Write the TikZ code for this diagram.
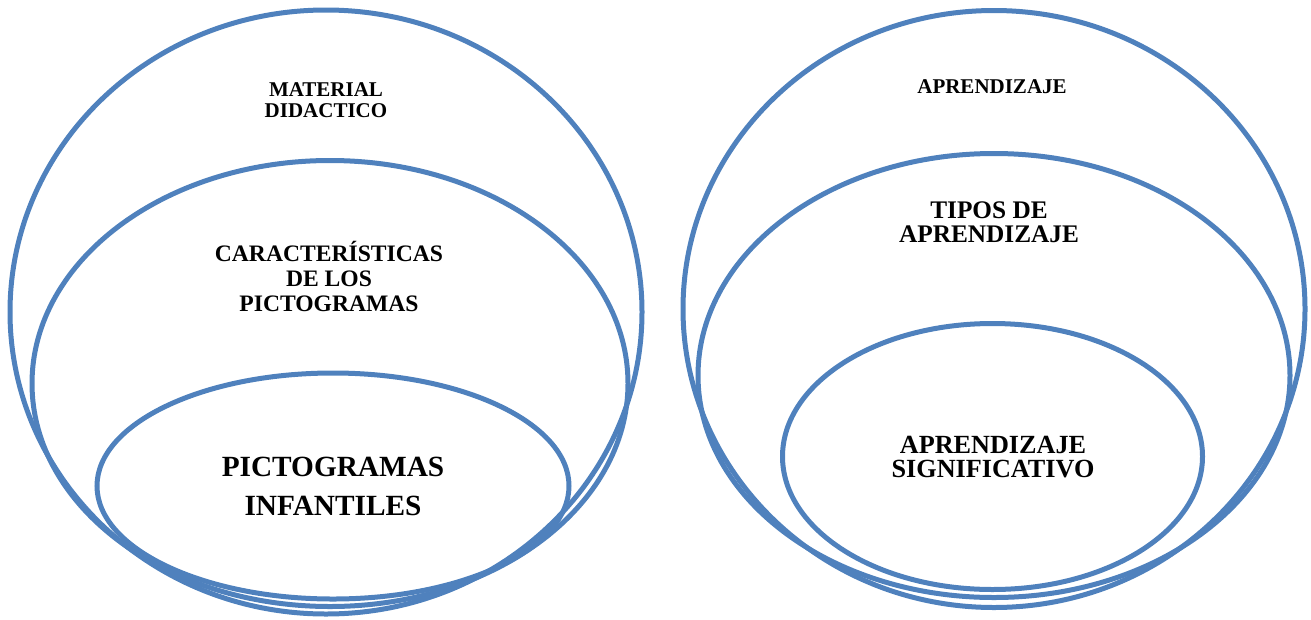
\documentclass[tikz,border=0pt]{standalone}
\usepackage{fontspec}
\setmainfont{Liberation Serif}
\usetikzlibrary{shapes.geometric}
\definecolor{ringblue}{HTML}{4F81BD}
\tikzset{
  ring/.style={draw=ringblue, line width=5pt, ellipse, inner sep=0pt, fill=none},
  lbl/.style={align=center, inner sep=0pt, text=black}
}
\begin{document}
\begin{tikzpicture}[x=1pt,y=-1pt]
\useasboundingbox (0,0) rectangle (1311,619);
% left group
\node[ring, minimum width=632pt, minimum height=604pt] (Lout) at (326,312) {};
\node[ring, minimum width=596pt, minimum height=446pt] (Lmid) at (330,383.5) {};
\node[ring, minimum width=472pt, minimum height=226pt] (Lin) at (333,486) {};
% right group
\node[ring, minimum width=622pt, minimum height=597pt] (Rout) at (994,309) {};
\node[ring, minimum width=592pt, minimum height=444pt] (Rmid) at (994,375.5) {};
\node[ring, minimum width=420pt, minimum height=266pt] (Rin) at (992.5,456.5) {};
% labels
\node[lbl, font=\bfseries\fontsize{21}{21}\selectfont] (t1) at (326,100.5) {MATERIAL\\DIDACTICO};
\node[lbl, font=\bfseries\fontsize{23.6}{25}\selectfont] (t2) at (329,276) {CARACTERÍSTICAS\\DE LOS\\PICTOGRAMAS};
\node[lbl, font=\bfseries\fontsize{29.3}{39}\selectfont] (t3) at (333,486.5) {PICTOGRAMAS\\INFANTILES};
\node[lbl, font=\bfseries\fontsize{21}{21}\selectfont] (t4) at (992,87) {APRENDIZAJE};
\node[lbl, font=\bfseries\fontsize{25.3}{23.5}\selectfont] (t5) at (989,222) {TIPOS DE\\APRENDIZAJE};
\node[lbl, font=\bfseries\fontsize{26.2}{24}\selectfont] (t6) at (993,457) {APRENDIZAJE\\SIGNIFICATIVO};
\end{tikzpicture}
\end{document}
